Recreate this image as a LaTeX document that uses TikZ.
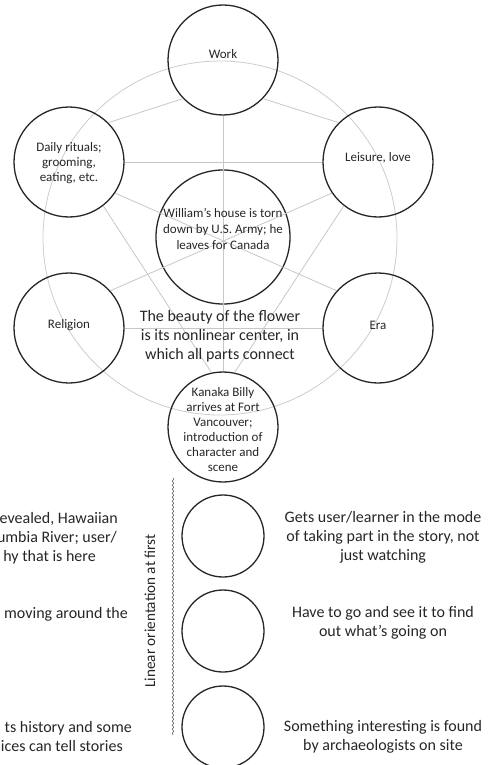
\documentclass[tikz,border=0pt]{standalone}
\usepackage{fontspec}
\setmainfont{Carlito}
\usetikzlibrary{decorations.pathmorphing}
\begin{document}
\begin{tikzpicture}[x=1pt,y=-1pt,
  ring/.style={circle,draw=black!85,line width=1.3pt,minimum size=110pt,inner sep=0pt},
  smallring/.style={circle,draw=black!85,line width=1.3pt,minimum size=82pt,inner sep=0pt},
  link/.style={draw=black!22,line width=0.8pt},
  ctext/.style={font=\fontsize{13}{15}\selectfont,text=black!85,align=center,inner sep=0pt},
  btext/.style={font=\fontsize{16}{19}\selectfont,text=black!85,align=center,inner sep=0pt},
  frag/.style={font=\fontsize{16}{19}\selectfont,text=black!85,inner sep=0pt,anchor=base east},
]
\useasboundingbox (0,0) rectangle (490,765);
% big background circle
\node[circle,draw=black!20,line width=0.8pt,minimum size=354pt,inner sep=0pt] (big) at (220,238) {};
% circles
\node[ring] (work) at (223,60) {};
\node[ring] (daily) at (69,162) {};
\node[ring] (leisure) at (378,162) {};
\node[ring,minimum size=134pt] (center) at (223,237) {};
\node[ring] (religion) at (69,328) {};
\node[ring] (era) at (378,328) {};
\node[ring] (kanaka) at (223,427) {};
\node[smallring] (b1) at (223,536) {};
\node[smallring] (b2) at (223,631) {};
\node[smallring] (b3) at (223,727) {};
% links
\draw[link] (daily.45) -- (work.224);
\draw[link] (work.316) -- (leisure.135);
\draw[link] (work.270) -- (kanaka.90);
\draw[link] (daily.0) -- (leisure.180);
\draw[link] (religion.0) -- (era.180);
\draw[link] (daily.326) -- (era.138);
\draw[link] (leisure.214) -- (religion.42);
\draw[link] (daily.308) -- (kanaka.102);
\draw[link] (leisure.232) -- (kanaka.78);
% circle texts
\node[ctext] (tw) at (223,54) {Work};
\node[ctext] (td) at (69,163) {Daily rituals;\\grooming,\\eating, etc.};
\node[ctext] (tl) at (378,158) {Leisure, love};
\node[ctext,font=\fontsize{13}{16}\selectfont] (tc) at (223,229) {William’s house is torn\\down by U.S. Army; he\\leaves for Canada};
\node[ctext] (tr) at (69,325) {Religion};
\node[ctext] (te) at (378,325) {Era};
\node[ctext] (tk) at (223,430) {Kanaka Billy\\arrives at Fort\\Vancouver;\\introduction of\\character and\\scene};
% centre statement
\node[btext] (beauty) at (220,336) {The beauty of the flower\\is its nonlinear center, in\\which all parts connect};
% right texts
\node[btext] (r1) at (383,537) {Gets user/learner in the mode\\of taking part in the story, not\\just watching};
\node[btext] (r2) at (383,623) {Have to go and see it to find\\out what’s going on};
\node[btext] (r3) at (383,737) {Something interesting is found\\by archaeologists on site};
% left clipped texts
\node[frag] (l1a) at (118,523) {evealed, Hawaiian};
\node[frag] (l1b) at (117,542) {umbia River; user/};
\node[frag] (l1c) at (96,561) {hy that is here};
\node[frag] (l2a) at (128,618) {moving around the};
\node[frag] (l3a) at (132,732) {ts history and some};
\node[frag] (l3b) at (123,751) {ices can tell stories};
% linear orientation
\coordinate (w1) at (173,478);
\coordinate (w2) at (173,735);
\draw[black!60,line width=0.6pt,decorate,decoration={snake,amplitude=0.8pt,segment length=4pt}] (w1) -- (w2);
\node[font=\fontsize{15.2}{17}\selectfont,text=black!85,rotate=90,inner sep=0pt] (lin) at (150,611) {Linear orientation at first};
\end{tikzpicture}
\end{document}
